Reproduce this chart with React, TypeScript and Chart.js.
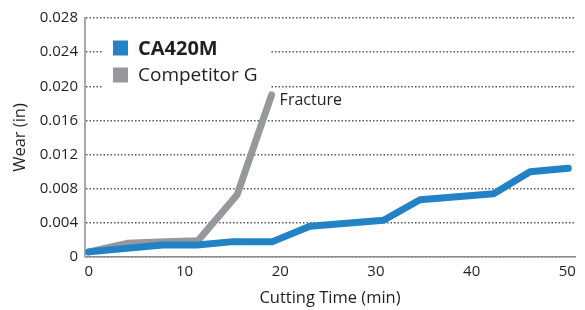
import React, { useEffect, useRef } from "react";
import { Chart, registerables } from "chart.js";

Chart.register(...registerables);

const caTimes = [0, 7.7, 11.3, 15.1, 19.2, 23.1, 30.8, 34.6, 42.3, 46.1, 50.1];
const caWear = [0.0006, 0.0014, 0.0014, 0.0018, 0.0018, 0.0036, 0.0043, 0.0067, 0.0074, 0.01, 0.0104];
const compTimes = [0, 4, 8, 11.4, 15.5, 19.1];
const compWear = [0.0006, 0.0016, 0.0018, 0.0019, 0.0073, 0.019];
const xTicks = [0, 10, 20, 30, 40, 50];
const yTicks = [0, 0.004, 0.008, 0.012, 0.016, 0.02, 0.024, 0.028];
const seriesNames = ["CA420M", "Competitor G"];
const annotationText = "Fracture";
const xTitle = "Cutting Time (min)";
const yTitle = "Wear (in)";

const BLUE = "#2382c6";
const GRAY = "#97989b";
const TEXT = "#231f20";
const FONT = "'Open Sans', 'Noto Sans', sans-serif";

export default function App() {
  const ref = useRef<HTMLCanvasElement>(null);
  useEffect(() => {
    if (!ref.current) return;
    const overlay = {
      id: "overlay",
      beforeDatasetsDraw(chart: any) {
        const ctx = chart.ctx;
        const a = chart.chartArea;
        ctx.save();
        const lx = a.left + 17;
        const ly = a.top + 16;
        ctx.fillStyle = "#ffffff";
        ctx.fillRect(lx, ly, 168, 58);
        const items = [
          { name: seriesNames[0], color: BLUE, font: `bold 20px ${FONT}`, y: a.top + 30 },
          { name: seriesNames[1], color: GRAY, font: `19px ${FONT}`, y: a.top + 57 },
        ];
        items.forEach((it) => {
          ctx.fillStyle = it.color;
          ctx.fillRect(a.left + 28, it.y - 7.5, 15, 15);
          ctx.fillStyle = TEXT;
          ctx.font = it.font;
          ctx.textBaseline = "middle";
          ctx.textAlign = "left";
          ctx.fillText(it.name, a.left + 53, it.y + 1);
        });
        ctx.restore();
      },
      afterDatasetsDraw(chart: any) {
        const ctx = chart.ctx;
        const xs = chart.scales.x;
        const ys = chart.scales.y;
        const i = compTimes.length - 1;
        const px = xs.getPixelForValue(compTimes[i]);
        const py = ys.getPixelForValue(compWear[i]);
        ctx.save();
        ctx.fillStyle = TEXT;
        ctx.font = `16px ${FONT}`;
        ctx.textBaseline = "middle";
        ctx.textAlign = "left";
        ctx.fillText(annotationText, px + 8, py + 6);
        ctx.restore();
      },
    };
    const chart = new Chart(ref.current, {
      type: "line",
      data: {
        datasets: [
          {
            label: seriesNames[0],
            data: caTimes.map((x, i) => ({ x, y: caWear[i] })),
            borderColor: BLUE,
            backgroundColor: BLUE,
            borderWidth: 7,
            pointRadius: 0,
            borderJoinStyle: "round",
            borderCapStyle: "round",
            tension: 0,
          },
          {
            label: seriesNames[1],
            data: compTimes.map((x, i) => ({ x, y: compWear[i] })),
            borderColor: GRAY,
            backgroundColor: GRAY,
            borderWidth: 7,
            pointRadius: 0,
            borderJoinStyle: "round",
            borderCapStyle: "round",
            tension: 0,
          },
        ],
      },
      options: {
        responsive: false,
        animation: false,
        layout: { padding: { top: 18, right: 10, left: 0, bottom: 0 } },
        plugins: { legend: { display: false }, tooltip: { enabled: false } },
        scales: {
          x: {
            type: "linear",
            min: -0.4,
            max: 50.8,
            afterBuildTicks: (s: any) => {
              s.ticks = xTicks.map((v) => ({ value: v }));
            },
            afterFit: (s: any) => {
              s.height = 53;
            },
            grid: { drawOnChartArea: false, drawTicks: false },
            border: { display: true, color: "#8a8b8e", width: 1.5 },
            ticks: {
              padding: 6,
              color: TEXT,
              font: { family: FONT, size: 15 },
              maxRotation: 0,
              callback: (v: any) => String(v),
            },
            title: {
              display: true,
              text: xTitle,
              color: TEXT,
              font: { family: FONT, size: 16.5 },
              padding: { top: 0, bottom: 2 },
            },
          },
          y: {
            min: 0,
            max: 0.028,
            afterBuildTicks: (s: any) => {
              s.ticks = yTicks.map((v) => ({ value: v }));
            },
            afterFit: (s: any) => {
              s.width = 85;
            },
            grid: { drawTicks: false, color: "#5a5b5e", lineWidth: 1.5 },
            border: { display: true, color: "#a7a9ac", width: 2, dash: [1.5, 2] },
            ticks: {
              padding: 7,
              color: TEXT,
              font: { family: FONT, size: 15 },
              callback: (v: any) => (v === 0 ? "0" : Number(v).toFixed(3)),
            },
            title: {
              display: true,
              text: yTitle,
              color: TEXT,
              font: { family: FONT, size: 16.5 },
              padding: { top: 10, bottom: 0 },
            },
          },
        },
      },
      plugins: [overlay],
    } as any);
    return () => chart.destroy();
  }, []);
  return (
    <div style={{ position: "fixed", left: 0, top: 0, width: 585, height: 310, background: "#fff" }}>
      <canvas ref={ref} width={585} height={310} style={{ display: "block" }} />
    </div>
  );
}
